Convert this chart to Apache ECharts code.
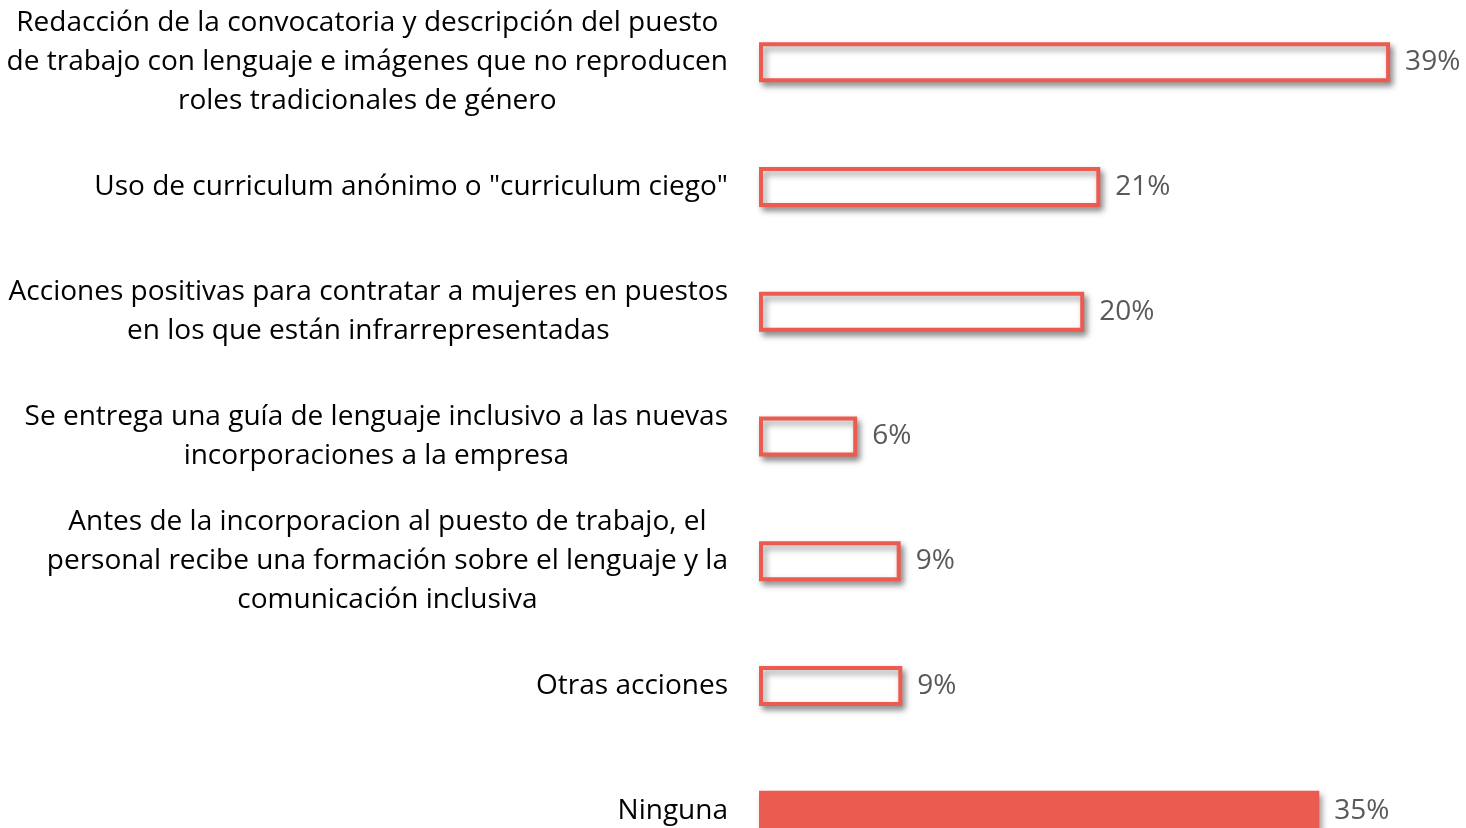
<!DOCTYPE html>
<html>
<head>
<meta charset="utf-8">
<script src="https://cdn.jsdelivr.net/npm/echarts@6/dist/echarts.min.js"></script>
<style>
  html, body { margin: 0; padding: 0; background: #fff; }
  #chart { width: 1466px; height: 828px; }
</style>
</head>
<body>
<div id="chart"></div>
<script>
// categories, top to bottom
const categories = [
  'Redacción de la convocatoria y descripción del puesto\nde trabajo con lenguaje e imágenes que no reproducen\nroles tradicionales de género',
  'Uso de curriculum anónimo o "curriculum ciego"',
  'Acciones positivas para contratar a mujeres en puestos\nen los que están infrarrepresentadas',
  'Se entrega una guía de lenguaje inclusivo a las nuevas\nincorporaciones a la empresa',
  'Antes de la incorporacion al puesto de trabajo, el\npersonal recibe una formación sobre el lenguaje y la\ncomunicación inclusiva',
  'Otras acciones',
  'Ninguna'
]
// percentages
const values = [39.2, 21.2, 20.2, 6.1, 8.8, 8.9, 34.8]
// the last bar is drawn solid
const solidIndex = 6

const RED = '#EC5B50'
const FONT = '"Open Sans"'

const chart = echarts.init(document.getElementById('chart'))

const seriesData = values.map((v, i) => {
  if (i === solidIndex) {
    return { value: v, itemStyle: { color: RED, borderWidth: 0 } }
  }
  return v
})

chart.setOption({
  animation: false,
  // last band runs off the bottom edge, like the original
  grid: { left: 759, top: 0, width: 644, height: 873, outerBoundsMode: 'none' },
  xAxis: {
    type: 'value',
    min: 0,
    max: 40,
    show: false
  },
  yAxis: {
    type: 'category',
    inverse: true,
    data: categories,
    axisLine: { show: false },
    axisTick: { show: false },
    axisLabel: {
      margin: 31,
      align: 'right',
      formatter: (val) => val.split('\n').map(l => '{c|' + l + '}').join('\n'),
      rich: {
        c: {
          align: 'center',
          fontFamily: FONT,
          fontSize: 28,
          lineHeight: 39,
          color: '#000'
        }
      }
    }
  },
  series: [{
    type: 'bar',
    data: seriesData,
    barWidth: 40,
    itemStyle: {
      color: '#fff',
      borderColor: RED,
      borderWidth: 4,
      shadowColor: 'rgba(0,0,0,0.4)',
      shadowBlur: 6,
      shadowOffsetX: 3,
      shadowOffsetY: 4
    },
    label: {
      show: true,
      position: 'right',
      distance: 15,
      fontFamily: FONT,
      fontSize: 28,
      color: '#595959',
      formatter: (p) => Math.round(p.value) + '%'
    }
  }]
})
</script>
</body>
</html>
